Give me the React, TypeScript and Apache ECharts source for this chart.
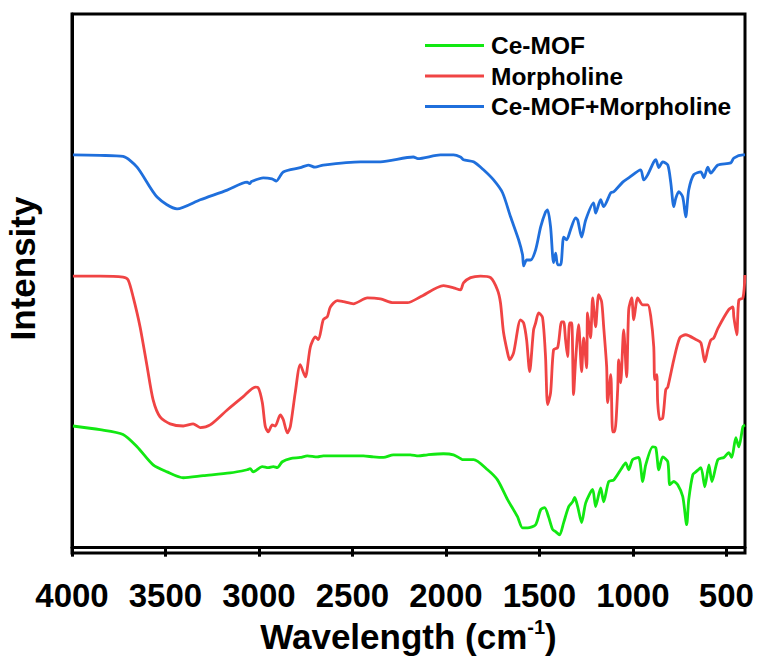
import React, { useEffect, useRef } from "react";
import * as echarts from "echarts";

// FTIR spectra: [wavenumber (cm-1), intensity (a.u., stacked offset)]
const ceMof: [number, number][] = [
  [3995, 22.8], [3850, 22.1], [3727, 21.2], [3652, 18.9], [3566, 15.5], [3491, 14.2],
  [3405, 13.1], [3298, 13.5], [3154, 14.0], [3063, 14.6], [3047, 14.8], [3031, 14.2],
  [2982, 15.2], [2950, 15.0], [2923, 15.2], [2902, 15.0], [2875, 16.1], [2832, 16.7],
  [2779, 16.9], [2741, 17.2], [2688, 17.0], [2656, 17.2], [2548, 17.2], [2441, 17.2],
  [2388, 17.0], [2334, 16.9], [2281, 17.4], [2190, 17.4], [2147, 17.2], [2099, 17.4],
  [2013, 17.6], [1959, 17.4], [1922, 16.7], [1911, 16.5], [1852, 16.5], [1777, 14.6],
  [1724, 12.7], [1670, 9.0], [1617, 5.8], [1590, 3.7], [1563, 3.7], [1520, 4.3],
  [1493, 7.1], [1472, 7.5], [1451, 5.8], [1429, 3.4], [1413, 3.0], [1392, 2.4],
  [1370, 4.7], [1343, 7.7], [1322, 8.6], [1311, 9.4], [1295, 7.7], [1274, 4.7],
  [1252, 8.4], [1215, 10.9], [1199, 7.7], [1172, 11.2], [1156, 8.6], [1129, 12.4],
  [1102, 12.7], [1065, 14.6], [1038, 15.9], [1022, 14.6], [1001, 16.5], [969, 16.9],
  [947, 12.4], [931, 15.5], [894, 18.9], [877, 18.7], [861, 14.6], [840, 17.0],
  [813, 16.1], [802, 11.8], [781, 12.4], [760, 11.8], [733, 9.6], [712, 4.3],
  [701, 9.0], [679, 13.7], [663, 14.2], [636, 15.0], [615, 11.4], [593, 15.5],
  [577, 12.4], [545, 16.5], [513, 16.9], [487, 17.8], [471, 16.9], [449, 20.6],
  [433, 18.9], [411, 22.7], [400, 23.0],
];

const morpholine: [number, number][] = [
  [3995, 50.9], [3850, 50.9], [3727, 50.7], [3700, 50.2], [3673, 47.0], [3636, 41.4],
  [3598, 33.9], [3566, 27.7], [3529, 24.5], [3475, 23.2], [3405, 22.8], [3352, 23.2],
  [3314, 22.5], [3261, 23.0], [3170, 25.8], [3084, 28.3], [3020, 30.1], [3004, 30.0],
  [2982, 27.2], [2966, 22.7], [2950, 21.7], [2929, 23.0], [2913, 22.8], [2886, 24.9],
  [2870, 24.0], [2848, 21.5], [2832, 22.7], [2806, 29.0], [2779, 34.3], [2752, 32.0],
  [2725, 37.6], [2698, 39.5], [2682, 39.0], [2656, 42.7], [2634, 43.3], [2618, 45.1],
  [2581, 46.3], [2548, 46.1], [2495, 45.7], [2420, 46.8], [2350, 46.6], [2281, 45.9],
  [2206, 45.9], [2136, 47.0], [2013, 49.1], [1959, 48.7], [1922, 48.3], [1906, 49.6],
  [1868, 50.6], [1815, 50.9], [1761, 50.6], [1724, 48.3], [1708, 45.9], [1692, 40.4],
  [1670, 36.5], [1659, 35.2], [1638, 36.5], [1601, 42.7], [1584, 42.1], [1568, 38.9],
  [1552, 33.0], [1531, 40.8], [1520, 42.1], [1504, 44.0], [1483, 43.1], [1467, 35.8],
  [1456, 26.8], [1440, 29.0], [1424, 37.1], [1402, 37.5], [1381, 42.3], [1370, 42.3],
  [1360, 39.0], [1349, 35.8], [1338, 42.1], [1327, 42.1], [1317, 28.7], [1306, 35.2],
  [1290, 41.8], [1274, 33.0], [1263, 39.3], [1247, 33.7], [1242, 44.0], [1226, 39.3],
  [1215, 46.8], [1199, 41.4], [1183, 47.4], [1167, 46.1], [1156, 41.4], [1140, 33.9],
  [1135, 27.2], [1118, 32.4], [1108, 21.7], [1097, 21.7], [1081, 29.6], [1076, 35.2],
  [1065, 30.9], [1049, 40.8], [1033, 32.0], [1022, 44.6], [1006, 46.8], [995, 42.7],
  [974, 46.8], [947, 45.5], [920, 45.5], [904, 43.3], [888, 37.6], [883, 31.5],
  [872, 32.4], [867, 27.2], [856, 24.0], [840, 24.3], [824, 29.6], [813, 30.1],
  [781, 35.2], [749, 39.3], [717, 39.9], [663, 39.0], [636, 38.4], [615, 34.8],
  [599, 37.1], [583, 38.9], [567, 39.3], [545, 41.1], [487, 44.6], [465, 45.1],
  [460, 43.3], [444, 39.9], [433, 46.4], [411, 46.8], [400, 51.1],
];

const ceMofMorpholine: [number, number][] = [
  [3995, 73.6], [3850, 73.5], [3727, 73.3], [3652, 71.3], [3545, 65.7], [3438, 63.5],
  [3314, 65.2], [3170, 67.0], [3063, 68.5], [3050, 68.2], [3040, 68.6], [2977, 69.3],
  [2930, 69.1], [2907, 68.7], [2870, 70.4], [2779, 71.2], [2736, 71.7], [2700, 71.3],
  [2656, 71.7], [2457, 72.3], [2350, 72.3], [2174, 73.2], [2150, 72.9], [2029, 73.6],
  [1959, 73.6], [1922, 73.2], [1906, 72.7], [1852, 72.3], [1799, 70.8], [1745, 68.9],
  [1697, 66.5], [1654, 62.0], [1611, 57.7], [1590, 54.9], [1584, 52.8], [1568, 53.9],
  [1547, 53.9], [1520, 55.8], [1493, 60.1], [1467, 62.9], [1456, 63.3], [1440, 60.1],
  [1424, 53.4], [1413, 55.2], [1402, 53.0], [1386, 53.0], [1370, 58.2], [1354, 57.7],
  [1333, 59.6], [1306, 61.8], [1295, 61.4], [1274, 58.2], [1252, 61.4], [1210, 64.6],
  [1199, 62.7], [1172, 65.2], [1156, 63.9], [1118, 66.5], [1102, 66.7], [1054, 68.5],
  [1022, 69.3], [958, 70.8], [942, 68.9], [920, 69.9], [888, 72.3], [877, 72.7],
  [861, 71.2], [840, 72.3], [813, 71.7], [797, 68.4], [781, 63.9], [770, 65.5],
  [754, 66.7], [733, 65.7], [717, 62.0], [701, 67.0], [674, 69.9], [636, 70.4],
  [620, 69.3], [599, 71.3], [583, 70.2], [545, 71.7], [476, 72.1], [460, 73.0],
  [411, 73.6], [400, 73.6],
];

const seriesNames = ["Ce-MOF", "Morpholine", "Ce-MOF+Morpholine"];
const seriesColors = ["#12e812", "#f04444", "#1f6fdc"];
const xTicks = [500, 1000, 1500, 2000, 2500, 3000, 3500, 4000];

const FONT = "'Liberation Sans', Arial, Helvetica, sans-serif";

export default function App() {
  const ref = useRef<HTMLDivElement>(null);

  useEffect(() => {
    if (!ref.current) return;
    const chart = echarts.init(ref.current, undefined, { renderer: "svg" });
    const data = [ceMof, morpholine, ceMofMorpholine];
    chart.setOption({
      animation: false,
      backgroundColor: "#ffffff",
      textStyle: { fontFamily: FONT },
      grid: {
        left: 72,
        right: 16,
        top: 14,
        bottom: 103,
        show: true,
        borderColor: "#000",
        borderWidth: 3,
        outerBoundsMode: "none",
        containLabel: false,
      },
      legend: {
        orient: "vertical",
        left: 420,
        top: 28,
        icon: "rect",
        itemWidth: 59,
        itemHeight: 3,
        itemGap: 5.5,
        data: seriesNames,
        textStyle: {
          fontSize: 24.5,
          fontWeight: "bold",
          color: "#000",
          fontFamily: FONT,
          padding: [0, 0, 0, 2],
        },
      },
      xAxis: {
        type: "value",
        min: 400,
        max: 4000,
        inverse: true,
        name: "Wavelength (cm{sup|-1})",
        nameLocation: "middle",
        nameGap: 64,
        nameTextStyle: {
          fontSize: 35,
          fontWeight: "bold",
          color: "#000",
          fontFamily: FONT,
          rich: {
            sup: {
              fontSize: 20,
              fontWeight: "bold",
              color: "#000",
              fontFamily: FONT,
              padding: [0, 0, 18, 0],
            },
          },
        },
        axisLine: { show: true, lineStyle: { color: "#000", width: 3 } },
        axisTick: {
          show: true,
          inside: false,
          length: 9,
          customValues: xTicks,
          lineStyle: { color: "#000", width: 3 },
        },
        axisLabel: {
          customValues: xTicks,
          formatter: (v: number) => String(v),
          fontSize: 33,
          fontWeight: "bold",
          color: "#000",
          margin: 26,
          fontFamily: FONT,
        },
        splitLine: { show: false },
      },
      yAxis: {
        type: "value",
        min: -1,
        max: 100,
        name: "Intensity",
        nameLocation: "middle",
        nameRotate: 90,
        nameGap: 32,
        nameTextStyle: {
          fontSize: 35,
          fontWeight: "bold",
          color: "#000",
          fontFamily: FONT,
          padding: [0, 0, 0, 30],
        },
        axisLine: { show: true, lineStyle: { color: "#000", width: 3 } },
        axisTick: { show: false },
        axisLabel: { show: false },
        splitLine: { show: false },
      },
      series: seriesNames.map((name, i) => ({
        name,
        type: "line",
        data: data[i],
        symbol: "none",
        showSymbol: false,
        smooth: 0.25,
        color: seriesColors[i],
        lineStyle: { width: 2.8, color: seriesColors[i] },
        z: 2,
      })),
    });
    return () => chart.dispose();
  }, []);

  return (
    <div
      ref={ref}
      style={{ position: "fixed", left: 0, top: 0, width: 761, height: 656, background: "#fff" }}
    />
  );
}
